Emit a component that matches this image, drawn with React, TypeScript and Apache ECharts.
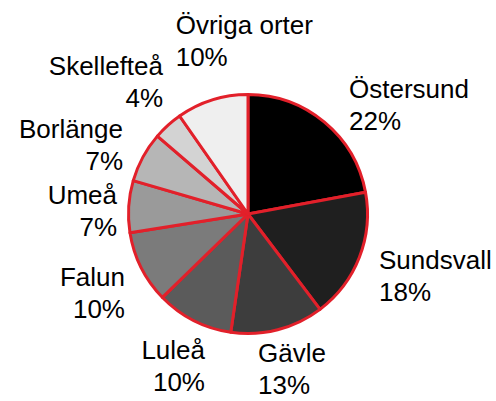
import React, { useEffect, useRef } from "react";
import * as echarts from "echarts";

// ---- data ----
const categories = [
  "Östersund",
  "Sundsvall",
  "Gävle",
  "Luleå",
  "Falun",
  "Umeå",
  "Borlänge",
  "Skellefteå",
  "Övriga orter",
];
const values = [22.1, 17.6, 12.6, 10.4, 9.8, 7.0, 6.8, 4.0, 9.7];

// ---- styling / layout ----
const sliceColors = [
  "#000000",
  "#1f1f1f",
  "#3d3d3d",
  "#5b5b5b",
  "#7b7b7b",
  "#9a9a9a",
  "#b6b6b6",
  "#d3d3d3",
  "#efefef",
];
const CX = 248;
const CY = 214;
const RADIUS = 119.5;
// label anchor (aligned edge, vertical middle) relative to the pie centre
const labelAnchors: number[][] = [
  [101, -109.5],
  [131, 62],
  [10, 155],
  [-43, 152],
  [-123, 78.5],
  [-131, -3.5],
  [-125, -69],
  [-85, -132.3],
  [-72.3, -173.2],
];
const labelAlign = ["left", "left", "left", "right", "right", "right", "right", "right", "left"];

export default function App() {
  const ref = useRef<HTMLDivElement>(null);
  useEffect(() => {
    if (!ref.current) return;
    const chart = echarts.init(ref.current, undefined, { renderer: "svg" });
    const total = values.reduce((a, b) => a + b, 0);
    chart.setOption({
      animation: false,
      backgroundColor: "#ffffff",
      series: [
        {
          type: "pie",
          center: [CX, CY],
          radius: RADIUS,
          startAngle: 90,
          clockwise: true,
          avoidLabelOverlap: false,
          data: categories.map((name, i) => ({
            name,
            value: values[i],
            itemStyle: { color: sliceColors[i] },
          })),
          itemStyle: { borderColor: "#e2202a", borderWidth: 3 },
          label: {
            show: true,
            position: "outside",
            color: "#000000",
            fontSize: 26,
            lineHeight: 32,
            fontFamily: "'Liberation Sans', Arial, sans-serif",
            formatter: (p: any) => `${p.name}\n${Math.round((p.value / total) * 100)}%`,
          },
          labelLine: { show: false },
          labelLayout: (p: any) => {
            const i = p.dataIndex;
            return {
              x: CX + labelAnchors[i][0],
              y: CY + labelAnchors[i][1],
              align: labelAlign[i],
              verticalAlign: "middle",
            };
          },
          emphasis: { disabled: true },
        },
      ],
    });
    return () => chart.dispose();
  }, []);
  return (
    <div
      ref={ref}
      style={{ position: "absolute", left: 0, top: 0, width: 496, height: 401 }}
    />
  );
}
